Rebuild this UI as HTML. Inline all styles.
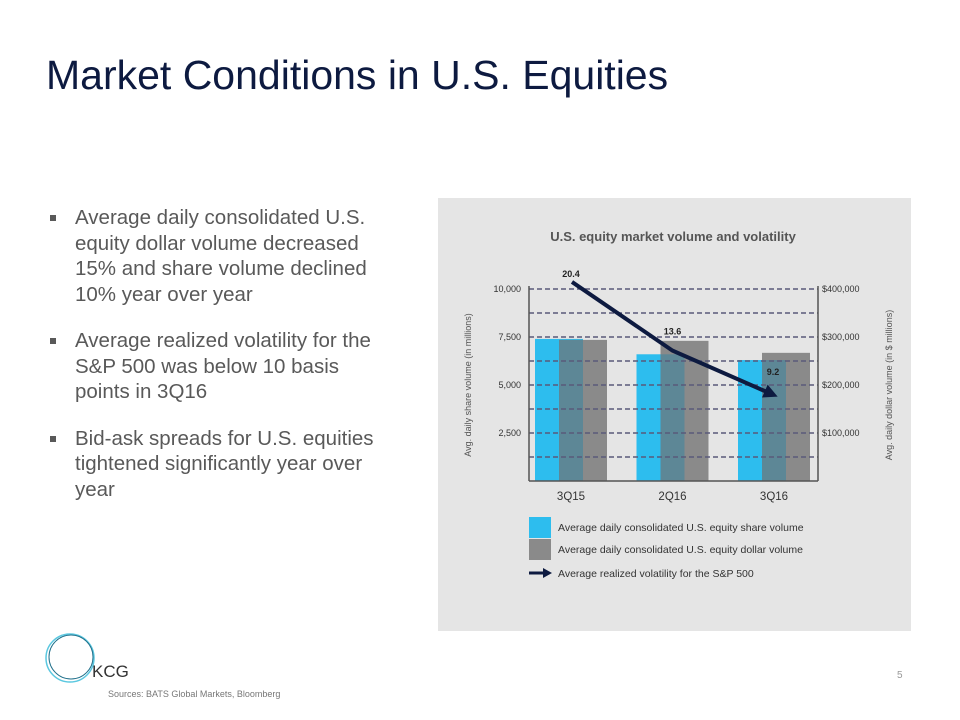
<!DOCTYPE html>
<html><head><meta charset="utf-8"><style>
body{margin:0;width:960px;height:720px;background:#fff;font-family:"Liberation Sans",sans-serif;position:relative;overflow:hidden}
.abs{position:absolute}
h1{position:absolute;left:46px;top:52px;margin:0;font-weight:normal;font-size:41px;color:#0d1a40}
ul{position:absolute;left:48px;top:205px;width:350px;margin:0;padding:0;list-style:none;font-size:20.5px;color:#595959;line-height:25.5px}
li{position:relative;padding-left:27px;margin-bottom:21px}
li:before{content:"";position:absolute;left:2px;top:10px;width:6px;height:6px;background:#595959}
</style></head><body>
<h1>Market Conditions in U.S. Equities</h1>
<ul>
<li>Average daily consolidated U.S. equity dollar volume decreased 15% and share volume declined 10% year over year</li>
<li>Average realized volatility for the S&amp;P 500 was below 10 basis points in 3Q16</li>
<li>Bid-ask spreads for U.S. equities tightened significantly year over year</li>
</ul>
<svg class="abs" style="left:0;top:0" width="960" height="720" id="svg">
<rect x="438" y="198" width="473" height="433" fill="#e5e5e5"/>
<text x="673" y="241" text-anchor="middle" font-size="13" font-weight="bold" fill="#555">U.S. equity market volume and volatility</text>
<text transform="translate(471,385) rotate(-90)" text-anchor="middle" font-size="9" fill="#555">Avg. daily share volume (in millions)</text>
<text transform="translate(892,385) rotate(-90)" text-anchor="middle" font-size="9" fill="#555">Avg. daily dollar volume (in $ millions)</text>
<g id="bars"></g><g id="grid"></g><g id="axes"></g><g id="line"></g>
<g font-size="10.5" fill="#333">
<rect x="529" y="517" width="22" height="21" fill="#2dbdee"/>
<text x="558" y="531">Average daily consolidated U.S. equity share volume</text>
<rect x="529" y="539" width="22" height="21" fill="#8a8a8a"/>
<text x="558" y="553">Average daily consolidated U.S. equity dollar volume</text>
<line x1="529" y1="573" x2="545" y2="573" stroke="#0d1a40" stroke-width="3"/>
<polygon points="543,568 552,573 543,578" fill="#0d1a40"/>
<text x="558" y="577">Average realized volatility for the S&amp;P 500</text>
</g>
<circle cx="70" cy="658" r="24" fill="none" stroke="#5bc8e0" stroke-width="1.5"/>
<circle cx="71" cy="657" r="22" fill="none" stroke="#1f6f8a" stroke-width="1"/>
<text x="92" y="677" font-size="17" fill="#333">KCG</text>
<text x="108" y="697" font-size="9" fill="#777">Sources: BATS Global Markets, Bloomberg</text>
<text x="897" y="678" font-size="10" fill="#999">5</text>
</svg>
<script>
const categories=["3Q15","2Q16","3Q16"];
const shareVolume=[7400,6600,6300];
const dollarVolume=[294000,292000,267000];
const volatility=[20.4,13.6,9.2];
const leftTicks=[2500,5000,7500,10000];
const rightTicks=[100000,200000,300000,400000];
const NS="http://www.w3.org/2000/svg";
const X0=529,X1=818,Y0=481,Y1=289;
const yL=v=>Y0-(v/10000)*(Y0-Y1);
const yR=v=>Y0-(v/400000)*(Y0-Y1);
const yV=v=>488-v*10.1;
const cx=i=>571+101.5*i;
function mk(t,a,p){const e=document.createElementNS(NS,t);for(const k in a)e.setAttribute(k,a[k]);document.getElementById(p).appendChild(e);return e;}
for(let k=1;k<=8;k++){const y=yL(k*1250);const g=mk("line",{x1:X0,x2:X1,y1:y,y2:y,stroke:"#5a5a7a","stroke-width":1.6,"stroke-dasharray":"5,3"},"grid");

}
categories.forEach((c,i)=>{const m=cx(i);
const bx=m-36,gx=m-12,w=48;
const b=mk("rect",{x:bx,y:yL(shareVolume[i]),width:w,height:Y0-yL(shareVolume[i]),fill:"#2dbdee"},"bars");


const g=mk("rect",{x:gx,y:yR(dollarVolume[i]),width:w,height:Y0-yR(dollarVolume[i]),fill:"#8a8a8a"},"bars");


const top=Math.max(yL(shareVolume[i]),yR(dollarVolume[i]));
const o=mk("rect",{x:gx,y:top,width:24,height:Y0-top,fill:"#5d8796"},"bars");


const t=mk("text",{x:m,y:500,"text-anchor":"middle","font-size":11.5,fill:"#333"},"axes");t.textContent=c;

});
mk("line",{x1:X0,x2:X0,y1:Y1-3,y2:Y0,stroke:"#555","stroke-width":1.5},"axes");
mk("line",{x1:X1,x2:X1,y1:Y1-3,y2:Y0,stroke:"#555","stroke-width":1.5},"axes");
mk("line",{x1:X0,x2:X1,y1:Y0,y2:Y0,stroke:"#555","stroke-width":1.5},"axes");
leftTicks.forEach(v=>{const t=mk("text",{x:X0-8,y:yL(v)+3,"text-anchor":"end","font-size":9,fill:"#333"},"axes");t.textContent=v.toLocaleString("en-US");

});
rightTicks.forEach(v=>{const t=mk("text",{x:X1+4,y:yR(v)+3,"font-size":9,fill:"#333"},"axes");t.textContent="$"+v.toLocaleString("en-US");

});
const pts=volatility.map((v,i)=>[cx(i)+(i==0?1:0),yV(v)]);
const n=pts.length-1,ex=pts[n][0],ey=pts[n][1],px=pts[n-1][0],py=pts[n-1][1];
const ang=Math.atan2(ey-py,ex-px);
const sx=ex-8*Math.cos(ang),sy=ey-8*Math.sin(ang);
const pl=mk("polyline",{points:pts.slice(0,n).map(p=>p.join(",")).join(" ")+" "+sx+","+sy,fill:"none",stroke:"#0d1a40","stroke-width":4},"line");


const ca=Math.cos(ang),sa=Math.sin(ang);
const ah=mk("polygon",{points:[[ex+4*ca,ey+4*sa],[ex-10*ca-7*sa,ey-10*sa+7*ca],[ex-10*ca+7*sa,ey-10*sa-7*ca]].map(p=>p.join(",")).join(" "),fill:"#0d1a40"},"line");


volatility.forEach((v,i)=>{const t=mk("text",{x:cx(i)+(i==2?-1:0),y:i==0?yV(v)-5:(i==2?yV(v)-20:yV(v)-16),"text-anchor":"middle","font-size":9,"font-weight":"bold",fill:"#222"},"line");t.textContent=v.toFixed(1);

});
</script>
</body></html>
